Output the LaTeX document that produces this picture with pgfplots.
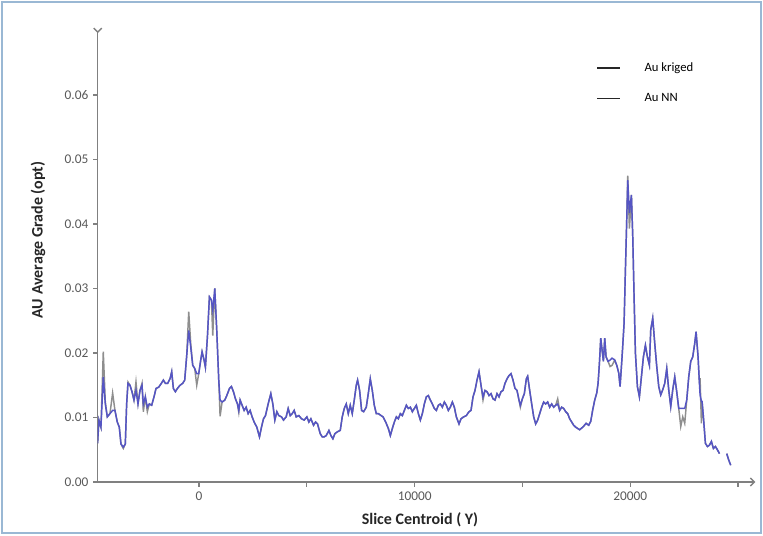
\documentclass[border=0pt]{standalone}
\usepackage{pgfplots}
\pgfplotsset{compat=1.18}
\usepackage{pgfplotstable}
\usepackage{fontspec}
\setmainfont{Carlito}
\usetikzlibrary{arrows.meta}
\definecolor{nnblue}{HTML}{5555C4}
\definecolor{krgray}{HTML}{8E8E8E}
\definecolor{axgray}{HTML}{808080}
\definecolor{txtgray}{HTML}{595959}
\definecolor{frm}{HTML}{9AB8D4}

\pgfplotstableread{
x b g
-4706 0.0060 0.0060
-4644 0.0096 0.0096
-4551 0.0085 0.0085
-4443 0.0163 0.0202
-4350 0.0121 0.0125
-4257 0.0101 0.0101
-4133 0.0106 0.0106
-4009 0.0111 0.0138
-3901 0.0111 0.0111
-3793 0.0093 0.0093
-3700 0.0085 0.0085
-3622 0.0059 0.0059
-3514 0.0054 0.0052
-3421 0.0059 0.0059
-3359 0.0121 0.0121
-3297 0.0153 0.0155
-3204 0.0150 0.0150
-3111 0.0140 0.0140
-3019 0.0127 0.0127
-2926 0.0142 0.0155
-2833 0.0121 0.0121
-2740 0.0142 0.0142
-2647 0.0150 0.0153
-2585 0.0121 0.0109
-2492 0.0132 0.0132
-2399 0.0116 0.0109
-2307 0.0121 0.0121
-2198 0.0119 0.0119
-2090 0.0132 0.0132
-1997 0.0145 0.0145
-1873 0.0147 0.0147
-1749 0.0153 0.0153
-1656 0.0158 0.0158
-1563 0.0153 0.0153
-1455 0.0153 0.0153
-1347 0.0160 0.0160
-1269 0.0171 0.0171
-1192 0.0145 0.0145
-1099 0.0140 0.0140
-1006 0.0145 0.0145
-882 0.0150 0.0150
-759 0.0153 0.0153
-666 0.0158 0.0158
-573 0.0196 0.0196
-480 0.0235 0.0264
-387 0.0209 0.0215
-294 0.0181 0.0181
-201 0.0176 0.0176
-108 0.0168 0.0150
-15 0.0168 0.0168
77 0.0189 0.0189
139 0.0202 0.0202
232 0.0189 0.0189
294 0.0178 0.0178
387 0.0225 0.0225
480 0.0287 0.0287
573 0.0282 0.0282
635 0.0266 0.0227
728 0.0300 0.0300
820 0.0235 0.0235
913 0.0158 0.0158
975 0.0127 0.0102
1068 0.0124 0.0124
1192 0.0127 0.0127
1285 0.0134 0.0134
1409 0.0145 0.0145
1502 0.0148 0.0148
1595 0.0140 0.0140
1687 0.0129 0.0129
1780 0.0121 0.0121
1842 0.0111 0.0108
1904 0.0127 0.0127
1997 0.0119 0.0119
2090 0.0111 0.0111
2183 0.0116 0.0116
2276 0.0106 0.0106
2368 0.0111 0.0111
2461 0.0101 0.0101
2554 0.0093 0.0093
2678 0.0085 0.0085
2802 0.0070 0.0070
2895 0.0085 0.0085
2988 0.0098 0.0098
3081 0.0103 0.0103
3204 0.0121 0.0121
3328 0.0137 0.0137
3421 0.0121 0.0121
3514 0.0096 0.0096
3607 0.0109 0.0109
3700 0.0103 0.0103
3824 0.0101 0.0101
3916 0.0096 0.0096
4040 0.0101 0.0101
4133 0.0114 0.0114
4226 0.0103 0.0103
4319 0.0106 0.0106
4412 0.0111 0.0111
4505 0.0101 0.0101
4629 0.0103 0.0103
4752 0.0098 0.0098
4876 0.0096 0.0096
5000 0.0101 0.0101
5093 0.0093 0.0093
5186 0.0098 0.0098
5310 0.0088 0.0088
5403 0.0093 0.0093
5495 0.0090 0.0090
5619 0.0075 0.0075
5712 0.0070 0.0070
5805 0.0070 0.0070
5898 0.0072 0.0072
6022 0.0080 0.0080
6115 0.0072 0.0072
6207 0.0067 0.0067
6300 0.0075 0.0075
6424 0.0078 0.0078
6548 0.0080 0.0080
6641 0.0101 0.0101
6734 0.0114 0.0114
6827 0.0121 0.0121
6920 0.0106 0.0106
7012 0.0119 0.0119
7105 0.0106 0.0106
7198 0.0127 0.0127
7291 0.0150 0.0150
7353 0.0158 0.0158
7446 0.0142 0.0142
7539 0.0111 0.0111
7632 0.0109 0.0109
7755 0.0116 0.0116
7848 0.0137 0.0137
7941 0.0160 0.0160
8034 0.0142 0.0142
8127 0.0119 0.0119
8220 0.0106 0.0106
8313 0.0106 0.0106
8531 0.0101 0.0101
8655 0.0093 0.0093
8779 0.0083 0.0083
8871 0.0072 0.0072
8964 0.0083 0.0083
9057 0.0093 0.0093
9150 0.0101 0.0101
9242 0.0098 0.0098
9335 0.0106 0.0106
9428 0.0103 0.0103
9521 0.0111 0.0111
9614 0.0119 0.0119
9706 0.0114 0.0114
9799 0.0116 0.0116
9892 0.0109 0.0109
9985 0.0114 0.0114
10077 0.0119 0.0119
10170 0.0106 0.0106
10263 0.0096 0.0096
10356 0.0106 0.0106
10448 0.0121 0.0121
10541 0.0132 0.0132
10634 0.0134 0.0134
10727 0.0127 0.0127
10819 0.0121 0.0121
10912 0.0114 0.0114
11005 0.0111 0.0111
11098 0.0119 0.0119
11190 0.0121 0.0121
11283 0.0116 0.0116
11376 0.0124 0.0124
11469 0.0119 0.0119
11561 0.0111 0.0111
11654 0.0116 0.0116
11747 0.0124 0.0124
11840 0.0116 0.0116
11932 0.0101 0.0101
12056 0.0090 0.0090
12149 0.0098 0.0098
12273 0.0101 0.0101
12396 0.0103 0.0103
12520 0.0109 0.0109
12613 0.0111 0.0111
12706 0.0132 0.0132
12798 0.0142 0.0142
12891 0.0158 0.0158
12984 0.0171 0.0171
13077 0.0150 0.0150
13169 0.0132 0.0127
13262 0.0142 0.0142
13355 0.0140 0.0140
13448 0.0134 0.0134
13541 0.0137 0.0137
13633 0.0129 0.0129
13726 0.0127 0.0127
13819 0.0137 0.0137
13912 0.0132 0.0132
14004 0.0140 0.0140
14097 0.0142 0.0142
14190 0.0153 0.0153
14283 0.0160 0.0160
14375 0.0165 0.0165
14468 0.0168 0.0168
14561 0.0158 0.0158
14654 0.0145 0.0145
14746 0.0142 0.0142
14839 0.0127 0.0127
14901 0.0119 0.0116
14994 0.0129 0.0129
15086 0.0137 0.0137
15179 0.0160 0.0160
15241 0.0164 0.0164
15334 0.0142 0.0142
15427 0.0121 0.0121
15520 0.0101 0.0101
15612 0.0090 0.0090
15705 0.0096 0.0096
15798 0.0106 0.0106
15891 0.0116 0.0116
15983 0.0124 0.0124
16076 0.0121 0.0121
16169 0.0124 0.0124
16262 0.0116 0.0116
16354 0.0121 0.0121
16447 0.0116 0.0116
16540 0.0119 0.0119
16633 0.0121 0.0129
16725 0.0111 0.0111
16818 0.0116 0.0116
16911 0.0114 0.0114
17004 0.0109 0.0109
17096 0.0106 0.0106
17189 0.0098 0.0098
17282 0.0093 0.0093
17375 0.0088 0.0088
17467 0.0085 0.0085
17560 0.0083 0.0083
17653 0.0081 0.0081
17826 0.0086 0.0086
17949 0.0091 0.0091
18073 0.0088 0.0088
18166 0.0094 0.0094
18258 0.0112 0.0112
18351 0.0127 0.0127
18444 0.0138 0.0138
18506 0.0153 0.0153
18568 0.0184 0.0184
18630 0.0223 0.0223
18691 0.0205 0.0205
18753 0.0187 0.0187
18815 0.0223 0.0223
18877 0.0194 0.0194
18970 0.0187 0.0187
19062 0.0189 0.0179
19155 0.0192 0.0181
19279 0.0189 0.0189
19372 0.0181 0.0181
19464 0.0169 0.0169
19526 0.0148 0.0148
19619 0.0194 0.0194
19712 0.0246 0.0246
19774 0.0329 0.0329
19835 0.0406 0.0406
19882 0.0468 0.0475
19959 0.0417 0.0393
20052 0.0445 0.0445
20114 0.0381 0.0381
20176 0.0287 0.0287
20238 0.0200 0.0200
20330 0.0148 0.0148
20423 0.0132 0.0132
20516 0.0163 0.0163
20609 0.0194 0.0194
20701 0.0212 0.0212
20794 0.0194 0.0194
20887 0.0181 0.0181
20949 0.0236 0.0236
21041 0.0254 0.0254
21134 0.0215 0.0215
21227 0.0179 0.0179
21320 0.0148 0.0148
21412 0.0135 0.0135
21505 0.0143 0.0143
21598 0.0153 0.0153
21691 0.0176 0.0176
21783 0.0143 0.0143
21876 0.0117 0.0117
21969 0.0143 0.0143
22062 0.0163 0.0163
22154 0.0140 0.0140
22247 0.0114 0.0114
22340 0.0114 0.0086
22433 0.0114 0.0101
22525 0.0114 0.0091
22618 0.0127 0.0127
22711 0.0163 0.0163
22804 0.0187 0.0187
22896 0.0194 0.0194
22989 0.0215 0.0215
23051 0.0233 0.0233
23144 0.0194 0.0194
23206 0.0153 0.0153
23237 0.0135 0.0161
23298 0.0125 0.0091
23329 0.0125 0.0125
23391 0.0101 0.0101
23484 0.0060 0.0060
23577 0.0055 0.0055
23670 0.0057 0.0057
23762 0.0063 0.0063
23855 0.0052 0.0052
23948 0.0055 0.0055
24041 0.0050 0.0050
24134 0.0044 0.0044
24300 nan nan
24473 0.0044 0.0044
24566 0.0034 0.0034
24659 0.0026 0.0026
}\grades

\begin{document}
\begin{tikzpicture}
\path[use as bounding box] (0,0) rectangle (572.25pt,401.25pt);
\draw[frm, line width=1.5pt] (1.2pt,1.2pt) rectangle (571.05pt,400.05pt);
\begin{axis}[
  at={(73.3pt,39.75pt)}, anchor=south west,
  scale only axis, width=493.2pt, height=341pt,
  xmin=-4700, xmax=25800, ymin=0, ymax=0.0705,
  axis lines=left,
  axis line style={axgray, line width=1.1pt},
  x axis line style={-{Straight Barb[length=3pt,width=6pt]}},
  y axis line style={-{Straight Barb[reversed,length=3pt,width=6pt]}},
  tick align=outside, major tick length=3.5pt,
  tick style={axgray, line width=0.9pt},
  scaled ticks=false,
  xtick={0,5000,10000,15000,20000,25000},
  xticklabels={0,,10000,,20000,},
  ytick={0,0.01,0.02,0.03,0.04,0.05,0.06},
  yticklabel style={/pgf/number format/fixed, /pgf/number format/fixed zerofill, /pgf/number format/precision=2},
  /pgf/number format/assume math mode=true,
  ticklabel style={font=\fontsize{10}{12}\selectfont, text=txtgray},
  xlabel={Slice Centroid ( Y)},
  ylabel={AU Average Grade (opt)},
  label style={font=\bfseries\fontsize{12}{14}\selectfont, text=black!85},
  xlabel style={at={(axis description cs:0.49,-0.0836)}, anchor=center},
  ylabel style={at={(axis description cs:-0.0908,0.532)}, anchor=center},
  unbounded coords=jump,
  legend style={at={(axis description cs:0.752,0.935)}, anchor=north west,
    draw=none, fill=none, font=\fontsize{9.5}{11}\selectfont, row sep=11pt,
    /tikz/every odd column/.append style={column sep=16pt}},
  legend cell align=left,
  legend image code/.code={\draw[#1] (0pt,0pt) -- (17pt,0pt);},
]
\addplot[krgray, line width=1.1pt, forget plot] table[x=x, y=g] {\grades};
\addplot[nnblue, line width=1.1pt, forget plot] table[x=x, y=b] {\grades};
\addlegendimage{black!85, line width=1pt}
\addlegendentry{Au kriged}
\addlegendimage{black!85, line width=1pt}
\addlegendentry{Au NN}
\end{axis}
\end{tikzpicture}
\end{document}
